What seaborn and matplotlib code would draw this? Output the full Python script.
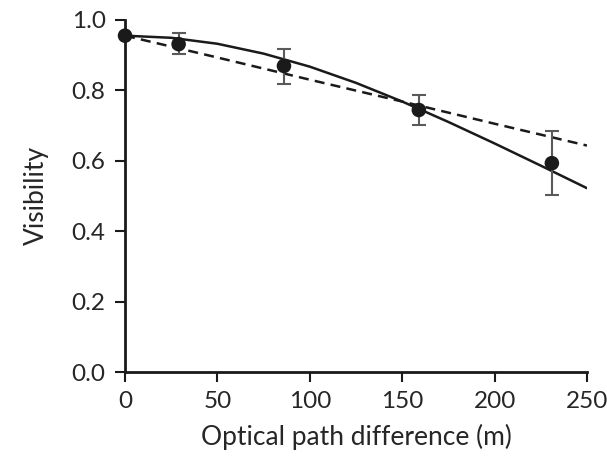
import numpy as np
import pandas as pd
import seaborn as sns
import matplotlib
matplotlib.use("Agg")
import matplotlib.pyplot as plt
from matplotlib.ticker import FormatStrFormatter

# measured points
opd = [0, 29, 86, 159, 231]
vis = [0.955, 0.931, 0.869, 0.744, 0.593]
err_lo = [0.0, 0.028, 0.052, 0.044, 0.091]
err_hi = [0.0, 0.031, 0.049, 0.043, 0.092]

# solid fit curve
fit_x = [0, 25, 50, 75, 100, 125, 150, 175, 200, 225, 250]
fit_solid = [0.955, 0.949, 0.932, 0.904, 0.867, 0.821, 0.768, 0.710, 0.649, 0.586, 0.522]

# dashed fit line
dash_x = [0, 50, 100, 150, 200, 250]
dash_y = [0.955, 0.893, 0.830, 0.768, 0.705, 0.643]

sns.set_style("ticks")
plt.rcParams['font.family'] = ['Lato', 'DejaVu Sans']

fig = plt.figure(figsize=(6.07, 4.61), dpi=100)
ax = fig.add_axes([0.206, 0.193, 0.761, 0.764])

sns.lineplot(x=fit_x, y=fit_solid, ax=ax, color='#1a1a1a', lw=1.8)
sns.lineplot(x=dash_x, y=dash_y, ax=ax, color='#1a1a1a', lw=1.8, linestyle=(0, (4, 2.5)))
ax.errorbar(opd, vis, yerr=[err_lo, err_hi], fmt='none', ecolor='#5a5a5a',
            elinewidth=1.5, capsize=5, capthick=1.5, zorder=3)
sns.scatterplot(x=opd, y=vis, ax=ax, color='#1a1a1a', s=110, edgecolor='none', zorder=4, clip_on=False)

ax.set_xlim(0, 250)
ax.set_ylim(0, 1.0)
ax.set_xticks([0, 50, 100, 150, 200, 250])
ax.set_yticks([0, 0.2, 0.4, 0.6, 0.8, 1.0])
ax.yaxis.set_major_formatter(FormatStrFormatter('%.1f'))
ax.tick_params(direction='out', length=7, width=1.5, labelsize=17.5, color='#1a1a1a', pad=7)
for s in ['left', 'bottom']:
    ax.spines[s].set_linewidth(2)
    ax.spines[s].set_color('#1a1a1a')
sns.despine(ax=ax)

ax.set_xlabel('Optical path difference (m)', fontsize=19, labelpad=8)
ax.set_ylabel('Visibility', fontsize=19, labelpad=16)

fig.savefig('out.png', dpi=100)
